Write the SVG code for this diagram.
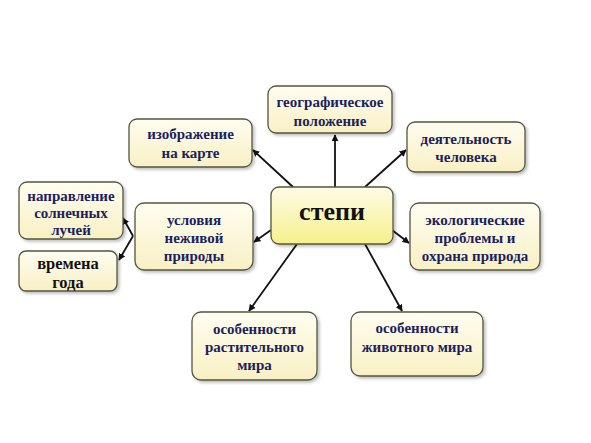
<svg xmlns="http://www.w3.org/2000/svg" width="591" height="443" viewBox="0 0 591 443">
<defs>
<linearGradient id="g" x1="0" y1="0" x2="0" y2="1">
<stop offset="0" stop-color="#fffdf0"/>
<stop offset="1" stop-color="#f8f0c4"/>
</linearGradient>
<linearGradient id="gc" x1="0" y1="0" x2="0" y2="1">
<stop offset="0" stop-color="#fdfce6"/>
<stop offset="1" stop-color="#f6f08c"/>
</linearGradient>
<filter id="sh" x="-10%" y="-10%" width="130%" height="130%">
<feDropShadow dx="2" dy="2" stdDeviation="1.5" flood-color="#000" flood-opacity="0.25"/>
</filter>
<marker id="ah" viewBox="0 0 10 10" refX="9" refY="5" markerWidth="7" markerHeight="7" markerUnits="userSpaceOnUse" orient="auto">
<path d="M0,0 L10,5 L0,10 z" fill="#111"/>
</marker>
</defs>
<style>
.box{fill:url(#g);stroke:#55553f;stroke-width:1.3;filter:url(#sh)}
.cbox{fill:url(#gc);stroke:#55553f;stroke-width:1.3;filter:url(#sh)}
.t{font-family:"Liberation Serif","Times New Roman",serif;font-weight:bold;font-size:15px;fill:#1b1f5e;text-anchor:middle}
.tb{font-family:"Liberation Serif","Times New Roman",serif;font-weight:bold;font-size:16.5px;fill:#111;text-anchor:middle}
.tc{font-family:"Liberation Serif","Times New Roman",serif;font-weight:bold;font-size:26px;fill:#111;text-anchor:middle}
.c{stroke:#111;stroke-width:1.8;fill:none;marker-end:url(#ah)}
</style>
<rect width="591" height="443" fill="#fff"/>
<g id="connectors">
<line class="c" x1="335" y1="187" x2="335" y2="135"/>
<line class="c" x1="293" y1="187" x2="253" y2="150"/>
<line class="c" x1="365" y1="187" x2="406" y2="150"/>
<line class="c" x1="271" y1="230" x2="254" y2="242"/>
<line class="c" x1="392" y1="230" x2="409" y2="243"/>
<line class="c" x1="297" y1="244" x2="249" y2="311"/>
<line class="c" x1="365" y1="244" x2="402" y2="311"/>
<line class="c" x1="133" y1="236" x2="123" y2="218"/>
<line class="c" x1="133" y1="236" x2="119" y2="260"/>
</g>
<g id="geo">
<rect class="box" x="268" y="86" width="124" height="47" rx="8"/>
<text class="t" x="330" y="107">географическое</text>
<text class="t" x="330" y="126">положение</text>
</g>
<g id="map">
<rect class="box" x="129" y="119" width="123" height="48" rx="8"/>
<text class="t" x="190.5" y="139">изображение</text>
<text class="t" x="190.5" y="158">на карте</text>
</g>
<g id="sun">
<rect class="box" x="19" y="182" width="104" height="57" rx="8"/>
<text class="t" x="71" y="201">направление</text>
<text class="t" x="71" y="218">солнечных</text>
<text class="t" x="71" y="235">лучей</text>
</g>
<g id="seasons">
<rect class="box" x="19" y="251" width="98" height="40" rx="7"/>
<text class="tb" x="68" y="269">времена</text>
<text class="tb" x="68" y="288">года</text>
</g>
<g id="abiotic">
<rect class="box" x="135" y="203" width="118" height="67" rx="9"/>
<text class="t" x="194" y="225">условия</text>
<text class="t" x="194" y="243">неживой</text>
<text class="t" x="194" y="261">природы</text>
</g>
<g id="center">
<rect class="cbox" x="271" y="187" width="122" height="57" rx="8"/>
<text class="tc" x="332" y="220">степи</text>
</g>
<g id="human">
<rect class="box" x="407" y="122" width="118" height="50" rx="8"/>
<text class="t" x="466" y="144">деятельность</text>
<text class="t" x="466" y="162">человека</text>
</g>
<g id="ecology">
<rect class="box" x="410" y="203" width="130" height="67" rx="9"/>
<text class="t" x="475" y="225">экологические</text>
<text class="t" x="475" y="243">проблемы и</text>
<text class="t" x="475" y="261">охрана природа</text>
</g>
<g id="flora">
<rect class="box" x="192" y="312" width="125" height="68" rx="9"/>
<text class="t" x="254.5" y="334">особенности</text>
<text class="t" x="254.5" y="352">растительного</text>
<text class="t" x="254.5" y="370">мира</text>
</g>
<g id="fauna">
<rect class="box" x="351" y="312" width="132" height="64" rx="9"/>
<text class="t" x="417" y="333">особенности</text>
<text class="t" x="417" y="352">животного мира</text>
</g>
</svg>
